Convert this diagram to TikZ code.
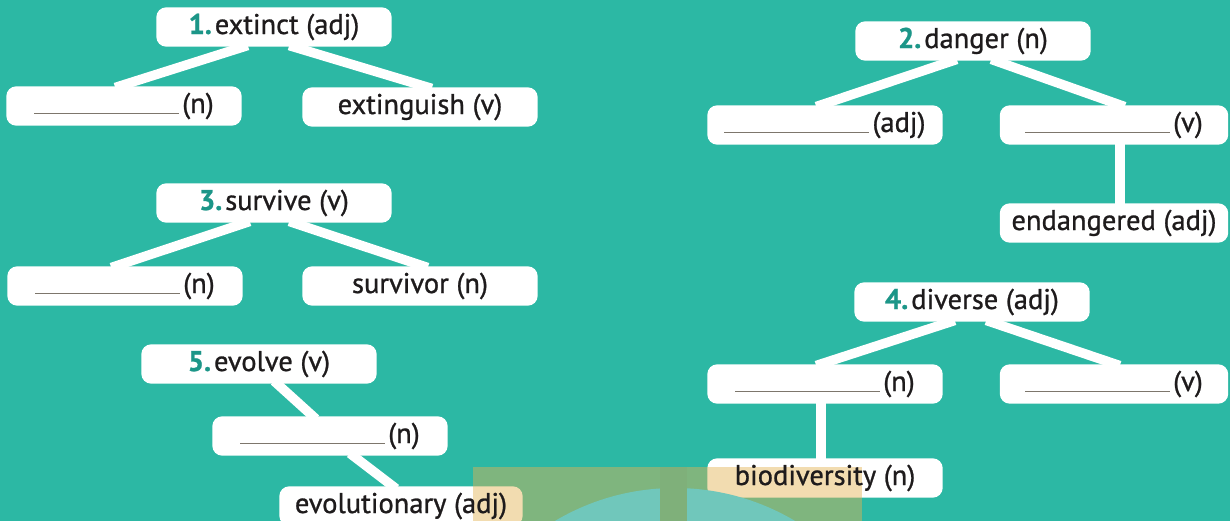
\documentclass[tikz,border=0pt]{standalone}
\usepackage{fontspec}
\setmainfont{PT Sans}
\newfontfamily\boxfont{PT Sans}[RawFeature={embolden=0.9}]
\usetikzlibrary{backgrounds}
\pgfdeclarelayer{boxes}
\pgfdeclarelayer{wm}
\pgfsetlayers{background,boxes,wm,main}
\definecolor{bgteal}{RGB}{44,184,164}
\definecolor{numteal}{RGB}{28,150,136}
\definecolor{ink}{RGB}{30,27,28}
\definecolor{rulegray}{RGB}{125,118,108}
\definecolor{wmorange}{RGB}{227,179,83}
\definecolor{wmcircle}{RGB}{112,199,187}
\definecolor{wmband}{RGB}{127,176,122}
\newcommand{\blankline}{\textcolor{rulegray}{\rule[-1pt]{145pt}{1.4pt}}\hspace{3pt}}
\newcommand{\itemnum}[1]{\textcolor{numteal}{\bfseries #1}\hspace{3pt}}
\begin{document}
\begin{tikzpicture}[x=1pt,y=-1pt,
  wbox/.style={minimum width=235pt, minimum height=39pt, inner sep=0pt, text=ink, font=\boxfont\fontsize{28.5}{32}\selectfont},
  boxfill/.style={fill=white, rounded corners=10pt},
  link/.style={draw=white, line width=9.5pt, shorten <=-4pt, shorten >=-4pt}]
\useasboundingbox (0,0) rectangle (1230,521);
\begin{scope}[on background layer]
\fill[bgteal] (0,0) rectangle (1230,521);
\end{scope}
% group 1
\node[wbox] (t1) at (274,27) {\itemnum{1.}extinct (adj)};
\node[wbox] (l1) at (124,106) {\blankline(n)};
\node[wbox] (r1) at (420,107) {extinguish (v)};
% group 3
\node[wbox] (t3) at (274,203) {\itemnum{3.}survive (v)};
\node[wbox] (l3) at (125,286) {\blankline(n)};
\node[wbox] (r3) at (420,286) {survivor (n)};
% group 5
\node[wbox] (t5) at (259,364) {\itemnum{5.}evolve (v)};
\node[wbox] (n5) at (330,436) {\blankline(n)};
\node[wbox, minimum width=243pt] (e5) at (401,506) {evolutionary (adj)};
% group 2
\node[wbox] (t2) at (973,41) {\itemnum{2.}danger (n)};
\node[wbox] (l2) at (825,125) {\blankline(adj)};
\node[wbox, minimum width=228pt] (r2) at (1114,125) {\blankline(v)};
\node[wbox, minimum width=228pt] (e2) at (1114,223) {endangered (adj)};
% group 4
\node[wbox] (t4) at (972,302) {\itemnum{4.}diverse (adj)};
\node[wbox] (l4) at (825,384) {\blankline(n)};
\node[wbox, minimum width=228pt] (r4) at (1114,384) {\blankline(v)};
\node[wbox] (b4) at (825,478) {biodiversity (n)};
% white box fills
\begin{pgfonlayer}{boxes}
\foreach \b in {t1,l1,r1,t3,l3,r3,t5,n5,e5,t2,l2,r2,e2,t4,l4,r4,b4}
  \fill[boxfill] (\b.south west) rectangle (\b.north east);
\end{pgfonlayer}
% connectors
\begin{scope}[on background layer]
\draw[link] ([xshift=-30pt]t1.south) -- ([xshift=-5pt]l1.north);
\draw[link] ([xshift=19pt]t1.south) -- ([xshift=8pt]r1.north);
\draw[link] ([xshift=-28pt]t3.south) -- ([xshift=-10pt]l3.north);
\draw[link] ([xshift=19pt]t3.south) -- ([xshift=4pt]r3.north);
\draw[link] ([xshift=18pt]t5.south) -- ([xshift=-17pt]n5.north);
\draw[link] ([xshift=23pt]n5.south) -- ([xshift=-8pt]e5.north);
\draw[link] ([xshift=-20pt]t2.south) -- ([xshift=-5pt]l2.north);
\draw[link] ([xshift=22pt]t2.south) -- ([xshift=7pt]r2.north);
\draw[link] ([xshift=6pt]r2.south) -- ([xshift=6pt]e2.north);
\draw[link] ([xshift=-21pt]t4.south) -- ([xshift=-5pt]l4.north);
\draw[link] ([xshift=18pt]t4.south) -- ([xshift=2pt]r4.north);
\draw[link] ([xshift=-4pt]l4.south) -- ([xshift=-4pt]b4.north);
\end{scope}
% watermark overlay (under the text, over the boxes)
\begin{pgfonlayer}{wm}
\fill[wmorange, opacity=0.46] (473,467) rectangle (862,521);
\begin{scope}
\clip (473,467) rectangle (862,521);
\fill[wmcircle] (675,723) circle[radius=235pt];
\end{scope}
\fill[wmband] (660,467) rectangle (687,521);
\end{pgfonlayer}
\end{tikzpicture}
\end{document}
